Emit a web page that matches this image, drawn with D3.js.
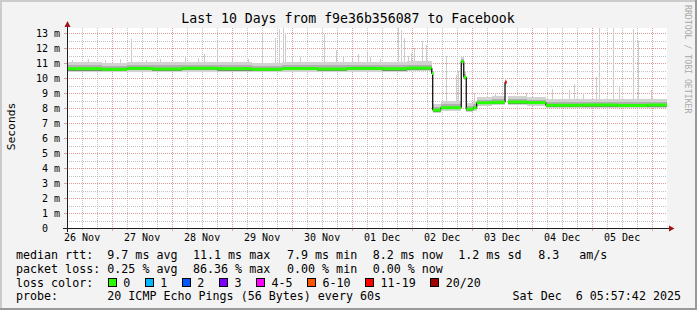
<!DOCTYPE html>
<html><head><meta charset="utf-8">
<script src="https://cdn.jsdelivr.net/npm/d3@7"></script>
<style>
body{margin:0;background:#f3f3f3;}
svg{display:block;font-family:"DejaVu Sans Mono",monospace;}
text{white-space:pre;}
</style></head><body>
<svg id="c" width="697" height="310"></svg>
<script>
// ---------------- data ----------------
const chartTitle = "Last 10 Days from f9e36b356087 to Facebook";
const unitLabel = "Seconds";
const watermark = "RRDTOOL / TOBI OETIKER";
const startTime = "2025-11-26T05:57:42Z";
const endTime = "2025-12-06T05:57:42Z";
const yTicks = [0,1,2,3,4,5,6,7,8,9,10,11,12,13];
const yTickLabels = ["0  ","1 m","2 m","3 m","4 m","5 m","6 m","7 m","8 m","9 m","10 m","11 m","12 m","13 m"];
const xTickDays = ["2025-11-26","2025-11-27","2025-11-28","2025-11-29","2025-11-30","2025-12-01","2025-12-02","2025-12-03","2025-12-04","2025-12-05"];
const xTickLabels = ["26 Nov","27 Nov","28 Nov","29 Nov","30 Nov","01 Dec","02 Dec","03 Dec","04 Dec","05 Dec"];

// median rtt (ms) as a step series: value holds from its time to the next time
const medianTimes = [
 "2025-11-26T05:57:42Z","2025-11-26T20:00Z","2025-11-27T06:00Z","2025-11-27T16:00Z","2025-11-28T04:00Z",
 "2025-11-28T18:00Z","2025-11-29T08:00Z","2025-11-29T20:00Z","2025-11-30T10:00Z","2025-11-30T22:00Z",
 "2025-12-01T12:00Z","2025-12-01T22:00Z","2025-12-02T07:50Z","2025-12-02T08:15Z","2025-12-02T11:30Z",
 "2025-12-02T19:40Z","2025-12-02T20:40Z","2025-12-02T21:40Z","2025-12-03T00:30Z","2025-12-03T01:50Z",
 "2025-12-03T08:00Z","2025-12-03T13:10Z","2025-12-03T13:35Z","2025-12-03T14:20Z","2025-12-03T22:00Z",
 "2025-12-04T05:30Z","2025-12-04T20:00Z","2025-12-05T10:00Z","2025-12-05T22:00Z","2025-12-06T05:57:42Z"];
const medianValues = [
 10.62,10.58,10.64,10.60,10.65, 10.62,10.58,10.63,10.60,10.64, 10.62,10.66,10.30,7.86,8.02,
 11.10,10.05,7.92,8.02,8.35, 8.38,9.72,null,8.40,8.36, 8.18,8.20,8.17,8.20,null];
const lossIndex = [0,0,0,0,0, 0,0,0,0,0, 0,0,0,0,0, 0,0,0,0,0, 0,6,0,0,0, 0,0,0,0,0];
const smokeLow  = [10.40,10.38,10.42,10.40,10.42, 10.40,10.38,10.41,10.40,10.42, 10.40,10.44,10.05,7.66,7.80, 10.90,9.85,7.72,7.80,8.15, 8.18,9.50,null,8.20,8.16, 8.00,8.00,7.98,8.00,null];
const smokeQ1   = [10.50,10.47,10.52,10.49,10.53, 10.50,10.47,10.51,10.49,10.52, 10.50,10.54,10.15,7.76,7.91, 11.00,9.95,7.82,7.91,8.25, 8.28,9.60,null,8.30,8.26, 8.08,8.10,8.07,8.10,null];
const smokeQ3   = [10.85,10.82,10.88,10.84,10.90, 10.86,10.82,10.87,10.84,10.88, 10.86,10.90,10.50,8.06,8.24, 11.25,10.30,8.15,8.24,8.56, 8.60,9.90,null,8.62,8.56, 8.40,8.42,8.38,8.42,null];
const smokeHigh = [11.06,11.02,11.08,11.04,11.10, 11.06,11.02,11.07,11.04,11.08, 11.08,11.12,10.70,8.30,8.45, 11.40,10.50,8.36,8.45,8.76, 8.80,10.00,null,8.82,8.76, 8.60,8.62,8.58,8.62,null];

// isolated slow pings (thin smoke spikes): time and top value (ms)
const spikeTimes = [
 "2025-11-26T08:00Z","2025-11-26T14:20Z","2025-11-26T21:10Z","2025-11-27T03:10Z","2025-11-27T07:33Z",
 "2025-11-27T13:35Z","2025-11-27T19:10Z","2025-11-28T05:10Z","2025-11-28T10:20Z","2025-11-28T12:45Z",
 "2025-11-28T18:00Z","2025-11-29T00:00Z","2025-11-29T06:20Z","2025-11-29T12:00Z","2025-11-29T17:10Z",
 "2025-11-29T18:45Z","2025-11-29T20:20Z","2025-11-29T21:10Z","2025-11-30T00:00Z","2025-11-30T03:10Z",
 "2025-11-30T12:45Z","2025-11-30T17:35Z","2025-11-30T20:20Z","2025-12-01T00:00Z","2025-12-01T02:20Z",
 "2025-12-01T05:57Z","2025-12-01T07:10Z","2025-12-01T11:10Z","2025-12-01T18:20Z","2025-12-01T19:35Z",
 "2025-12-01T20:45Z","2025-12-01T22:20Z","2025-12-01T23:35Z","2025-12-02T00:45Z","2025-12-02T03:57Z",
 "2025-12-02T05:35Z","2025-12-02T13:35Z","2025-12-02T17:35Z","2025-12-02T18:20Z","2025-12-03T00:45Z",
 "2025-12-03T09:10Z","2025-12-03T21:35Z","2025-12-04T07:57Z","2025-12-04T14:45Z","2025-12-04T16:45Z",
 "2025-12-04T20:20Z","2025-12-05T01:35Z","2025-12-05T02:45Z","2025-12-05T08:20Z","2025-12-05T10:45Z",
 "2025-12-05T16:20Z","2025-12-05T18:20Z","2025-12-05T23:35Z"];
const spikeTops = [
 11.2,11.25,11.2,11.3,12.6, 11.2,11.3,11.5,11.35,11.6, 12.2,11.25,11.3,12.95,12.7,
 13.3,13.33,13.0,11.45,11.4, 12.95,11.9,11.4,11.3,11.6, 11.7,11.4,11.3,13.33,13.2,
 12.7,11.5,11.7,12.0,12.5, 12.2,11.5,10.2,10.5,9.0, 9.0,9.0,9.3,9.2,9.6,
 9.0,10.1,13.33,13.33,9.5, 13.3,12.5,9.2];

const lossLabels = ["0","1","2","3","4-5","6-10","11-19","20/20"];
const lossColors = ["#26ff00","#00b8ff","#0059ff","#7e00ff","#ff00ff","#ff5500","#ff0000","#a10000"];

const legendRtt = [["median rtt:",16],["9.7 ms avg",107.3],["11.1 ms max",193],["7.9 ms min",287],["8.2 ms now",372.7],["1.2 ms sd",458.3],["8.3",538.3],["am/s",579.3]];
const legendLoss = [["packet loss:",16],["0.25 % avg",107.3],["86.36 % max",193],["0.00 % min",287],["0.00 % now",372.7]];
const probeLabel = "probe:";
const probeText = "20 ICMP Echo Pings (56 Bytes) every 60s";
const stampText = "Sat Dec  6 05:57:42 2025";

// ---------------- drawing ----------------
const W = 697, H = 310;
const svg = d3.select("#c");
const X0 = 67, X1 = 667, Y0 = 228, Y1 = 28;
const t0 = new Date(startTime), t1 = new Date(endTime);
const x = d3.scaleUtc().domain([t0, t1]).range([X0, X1]);
const y = d3.scaleLinear().domain([0, 200/15]).range([Y0, Y1]);
const px = v => Math.round(v) + 0.5;

// background and 3D border
svg.append("rect").attr("width", W).attr("height", H).attr("fill", "#f3f3f3");
svg.append("path").attr("d", `M0,${H} V0 H${W}`).attr("fill","none").attr("stroke","#cbcbcb").attr("stroke-width",4);
svg.append("path").attr("d", `M0,${H} H${W} V0`).attr("fill","none").attr("stroke","#999999").attr("stroke-width",4);

// canvas
svg.append("rect").attr("x", X0).attr("y", Y1).attr("width", X1 - X0).attr("height", Y0 - Y1).attr("fill", "#ffffff");

const grid = svg.append("g").attr("shape-rendering","crispEdges").attr("fill","none");
const minorCol = "#c2c2c2", majorCol = "#e09a9a";
yTicks.forEach(v => {
  const h = v + 0.5;
  if (h < y.domain()[1]) grid.append("line").attr("x1", X0).attr("x2", X1).attr("y1", px(y(h))).attr("y2", px(y(h)))
    .attr("stroke", minorCol).attr("stroke-dasharray","1,1");
});
d3.utcHour.every(6).range(t0, t1).filter(d => d.getUTCHours() !== 0).forEach(d => {
  grid.append("line").attr("x1", px(x(d))).attr("x2", px(x(d))).attr("y1", Y1).attr("y2", Y0)
    .attr("stroke", minorCol).attr("stroke-dasharray","1,1");
});
yTicks.filter(v => v > 0).forEach(v => {
  grid.append("line").attr("x1", X0).attr("x2", X1).attr("y1", px(y(v))).attr("y2", px(y(v)))
    .attr("stroke", majorCol).attr("stroke-dasharray","1,1");
});
d3.utcDay.range(t0, t1).forEach(d => {
  grid.append("line").attr("x1", px(x(d))).attr("x2", px(x(d))).attr("y1", Y1).attr("y2", Y0)
    .attr("stroke", majorCol).attr("stroke-dasharray","1,1");
});

// ---- smoke ----
const mt = medianTimes.map(s => new Date(s));
const plot = svg.append("g").attr("shape-rendering","crispEdges");
spikeTimes.forEach((s, i) => {
  const d = new Date(s);
  const xi = Math.round(x(d));
  let k = d3.bisectRight(mt, d) - 1;
  const base = medianValues[k] != null ? medianValues[k] : 8;
  plot.append("rect").attr("x", xi).attr("width", 1)
    .attr("y", y(spikeTops[i])).attr("height", y(base) - y(spikeTops[i])).attr("fill", "#cccccc");
});
function band(lo, hi, col) {
  for (let i = 0; i < mt.length - 1; i++) {
    if (lo[i] == null || hi[i] == null) continue;
    const xa = x(mt[i]), xb = x(mt[i+1]);
    plot.append("rect").attr("x", xa).attr("width", Math.max(1, xb - xa))
      .attr("y", y(hi[i])).attr("height", y(lo[i]) - y(hi[i])).attr("fill", col);
  }
}
band(smokeLow, smokeHigh, "#d2d2d2");
band(smokeQ1, smokeQ3, "#b0b0b0");
band(smokeQ1, medianValues, "#7c7c7c");

// black median step line
let dpath = "";
for (let i = 0; i < mt.length - 1; i++) {
  const v = medianValues[i];
  if (v == null) continue;
  const xa = x(mt[i]), xb = x(mt[i+1]);
  const prev = i > 0 ? medianValues[i-1] : null;
  if (prev != null) dpath += `M${xa},${y(prev)}V${y(v)}`;
  dpath += `M${xa},${y(v)}H${xb}`;
}
svg.append("path").attr("d", dpath).attr("fill","none").attr("stroke","#000").attr("stroke-width",1.2);

// loss-coloured median band
for (let i = 0; i < mt.length - 1; i++) {
  const v = medianValues[i];
  if (v == null) continue;
  const xa = x(mt[i]), xb = x(mt[i+1]);
  const w = Math.max(1.8, xb - xa);
  svg.append("rect").attr("x", xa).attr("width", w)
    .attr("y", y(v) - 1.5).attr("height", 3).attr("fill", lossColors[lossIndex[i]]);
}

// ---- axes ----
const axis = svg.append("g").attr("shape-rendering","crispEdges");
yTicks.forEach(v => {
  axis.append("line").attr("x1", X0 - 3).attr("x2", X0).attr("y1", px(y(v))).attr("y2", px(y(v))).attr("stroke", majorCol);
});
d3.utcDay.range(t0, t1).forEach(d => {
  axis.append("line").attr("x1", px(x(d))).attr("x2", px(x(d))).attr("y1", Y0).attr("y2", Y0 + 3).attr("stroke", majorCol);
});
d3.utcHour.every(6).range(t0, t1).forEach(d => {
  axis.append("line").attr("x1", px(x(d))).attr("x2", px(x(d))).attr("y1", Y0).attr("y2", Y0 + 2).attr("stroke", minorCol);
});
axis.append("line").attr("x1", X0 - 4).attr("x2", X1 + 3).attr("y1", Y0 + 0.5).attr("y2", Y0 + 0.5).attr("stroke", "#1f1f1f");
axis.append("line").attr("x1", X0 + 0.5).attr("x2", X0 + 0.5).attr("y1", Y0 + 4).attr("y2", Y1 - 2).attr("stroke", "#1f1f1f");
svg.append("path").attr("d", `M${X1+2},${Y0-2.5}L${X1+7.5},${Y0+0.5}L${X1+2},${Y0+3.5}Z`).attr("fill", "#a01515");
svg.append("path").attr("d", `M${X0-2.5},${Y1-1}L${X0+0.5},${Y1-7}L${X0+3.5},${Y1-1}Z`).attr("fill", "#a01515");

svg.append("g").selectAll("text").data(yTicks).join("text")
  .attr("x", 60).attr("y", v => y(v) + 3.6).attr("text-anchor","end")
  .attr("font-size", 10).attr("fill","#000").attr("xml:space","preserve")
  .text((v, i) => yTickLabels[i]);
svg.append("g").selectAll("text").data(xTickDays).join("text")
  .attr("x", d => x(new Date(d + "T12:00:00Z"))).attr("y", 241.3).attr("text-anchor","middle")
  .attr("font-size", 10).attr("fill","#000")
  .text((d, i) => xTickLabels[i]);

svg.append("text").attr("x", 348).attr("y", 23).attr("text-anchor","middle").attr("font-size", 13.2).attr("fill","#000").text(chartTitle);
svg.append("text").attr("transform","translate(15,126.5) rotate(-90)").attr("text-anchor","middle").attr("font-size", 11.3).attr("fill","#000").text(unitLabel);
svg.append("text").attr("transform","translate(684.5,5) rotate(90)").attr("font-size", 8.2).attr("fill","#a9a9a9").text(watermark);

const LF = 11.67, CW = LF * 0.602;
const leg = svg.append("g").attr("font-size", LF).attr("fill", "#000");
const rowY = [258.5, 272.5, 286.5, 300.3];
legendRtt.forEach(([t, lx]) => leg.append("text").attr("x", lx).attr("y", rowY[0]).attr("xml:space","preserve").text(t));
legendLoss.forEach(([t, lx]) => leg.append("text").attr("x", lx).attr("y", rowY[1]).attr("xml:space","preserve").text(t));
leg.append("text").attr("x", 16).attr("y", rowY[2]).text("loss color:");
let bx = 108;
lossLabels.forEach((lab, i) => {
  leg.append("rect").attr("x", Math.round(bx) + 0.5).attr("y", 278.5).attr("width", 8).attr("height", 8)
    .attr("fill", lossColors[i]).attr("stroke", "#000").attr("shape-rendering","crispEdges");
  leg.append("text").attr("x", bx + 15.3).attr("y", rowY[2]).text(lab);
  bx += 30 + CW * lab.length;
});
leg.append("text").attr("x", 16).attr("y", rowY[3]).text(probeLabel);
leg.append("text").attr("x", 107.3).attr("y", rowY[3]).text(probeText);
leg.append("text").attr("x", 681).attr("y", rowY[3]).attr("text-anchor","end").attr("xml:space","preserve").text(stampText);
</script>
</body></html>
